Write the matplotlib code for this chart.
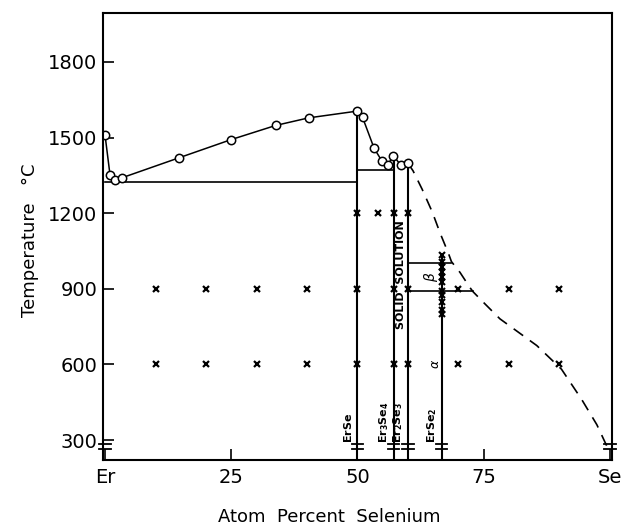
"""Er-Se phase diagram (temperature vs atom percent selenium)."""

import matplotlib
matplotlib.use("Agg")
import matplotlib.pyplot as plt

# ---------------------------------------------------------------------------
# Data
# ---------------------------------------------------------------------------
# measured liquidus (open circles), joined by a solid line
liq_x = [0, 1, 2, 3.3, 14.7, 25, 33.8, 40.3, 50, 51, 53.3, 54.8, 56, 57.1, 58.6, 60]
liq_t = [1510, 1350, 1332, 1340, 1420, 1492, 1548, 1578, 1605, 1580, 1457, 1408, 1392, 1428, 1390, 1398]

# estimated liquidus (dashed)
dash_x = [60, 61, 62.8, 64.8, 66.4, 68, 68.6, 70.3, 72.3, 72.9, 75.3, 78.2, 85.5, 90.4, 94.4, 97.4, 99.4]
dash_t = [1398, 1368, 1295, 1205, 1119, 1041, 1008, 965, 904, 888, 839, 781, 675, 581, 461, 361, 275]

# compounds: name, composition, top of the vertical line
comp_names = [r"$\mathbf{ErSe}$", r"$\mathbf{Er_3Se_4}$", r"$\mathbf{Er_2Se_3}$", r"$\mathbf{ErSe_2}$"]
comp_x = [50, 57.14, 60, 66.67]
comp_top = [1605, 1428, 1398, 1035]

# horizontal invariant lines: (x start, x end, temperature)
inv_x0 = [0, 50, 60, 60]
inv_x1 = [50, 57.14, 68.6, 72.9]
inv_t = [1322, 1372, 1002, 890]

# annealing runs (crosses)
cross_x = [10, 20, 30, 40, 50, 57.14, 60, 70, 80, 90,
           10, 20, 30, 40, 50, 57.14, 60, 70, 80, 90,
           50, 54, 57.14, 60]
cross_t = [900] * 10 + [600] * 10 + [1200] * 4
erse2_t = [1035, 1008, 988, 968, 948, 928, 891, 875, 848, 815, 801]

x_ticks = [0, 25, 50, 75, 100]
x_labels = ["Er", "25", "50", "75", "Se"]
y_ticks = [300, 600, 900, 1200, 1500, 1800]

BRK_HI, BRK_LO = 284, 264   # axis-break bars
YMIN, YMAX = 221, 1994

LW = 1.5


def main():
    fig = plt.figure(figsize=(6.21, 5.31), dpi=100)
    ax = fig.add_axes([103 / 621, 1 - 460 / 531, 509 / 621, 447 / 531])
    ax.set_xlim(-0.4, 100.4)
    ax.set_ylim(YMIN, YMAX)

    for s in ax.spines.values():
        s.set_linewidth(LW)
    ax.spines["left"].set_zorder(5)

    # liquidus
    ax.plot(liq_x, liq_t, "-", color="black", lw=1.1, zorder=3)
    ax.plot(liq_x, liq_t, "o", ms=6, mfc="white", mec="black", mew=1.1, zorder=4)
    ax.plot(dash_x, dash_t, color="black", lw=1.2, dashes=(7, 5), zorder=3)

    # invariant lines
    for x0, x1, t in zip(inv_x0, inv_x1, inv_t):
        ax.plot([x0, x1], [t, t], color="black", lw=1.2, zorder=2)

    # compound lines + labels
    for name, x, top in zip(comp_names, comp_x, comp_top):
        ax.plot([x, x], [YMIN, top], color="black", lw=LW, zorder=2)
        ax.text(x - 0.6, 288, name, rotation=90, ha="right", va="bottom",
                fontsize=8)

    # axis-break bars at bottom of each vertical line
    for x in [0] + comp_x + [100]:
        for t in (BRK_HI, BRK_LO):
            ax.plot([x - 1.1, x + 1.1], [t, t], color="black", lw=1.3,
                    clip_on=False, zorder=6)

    # crosses
    ax.plot(cross_x, cross_t, "x", color="black", ms=5, mew=1.6, zorder=5)
    ax.plot([comp_x[3]] * len(erse2_t), erse2_t, "x", color="black", ms=4,
            mew=1.5, zorder=5)

    # region labels
    ax.text(58.6, 955, "SOLID  SOLUTION", rotation=90, ha="center", va="center",
            fontsize=8, fontweight="bold")
    ax.text(64.6, 948, r"$\beta$", rotation=90, ha="center", va="center", fontsize=10)
    ax.text(65.4, 601, r"$\alpha$", rotation=90, ha="center", va="center", fontsize=9)

    # ticks
    ax.set_xticks(x_ticks)
    ax.set_xticklabels(x_labels)
    ax.set_yticks(y_ticks)
    ax.tick_params(direction="in", length=8, width=1.2, labelsize=14, pad=6)
    ax.tick_params(axis="y", pad=4)

    fig.text(30 / 621, 1 - 240 / 531, "Temperature   \u00b0C", rotation=90,
             ha="center", va="center", fontsize=13)
    fig.text(329 / 621, 1 - 517 / 531, "Atom  Percent  Selenium", ha="center",
             va="center", fontsize=13)

    fig.savefig("out.png", dpi=100, facecolor="white")
    plt.close(fig)


if __name__ == "__main__":
    main()
